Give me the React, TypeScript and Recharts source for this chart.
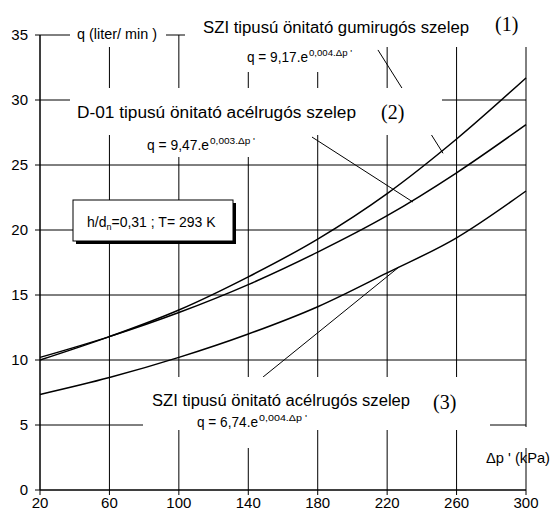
import React from "react";
import { LineChart, Line, XAxis, YAxis, CartesianGrid, ReferenceLine } from "recharts";

const P = [20, 60, 100, 140, 180, 220, 260, 300];
const Q1 = [10.0, 11.8, 13.85, 16.4, 19.3, 22.8, 27.0, 31.7];
const Q2 = [10.2, 11.8, 13.65, 15.8, 18.3, 21.1, 24.4, 28.1];
const Q3 = [7.35, 8.65, 10.2, 12.0, 14.1, 16.7, 19.4, 23.0];
const X_TICKS = [20, 60, 100, 140, 180, 220, 260, 300];
const Y_TICKS = [0, 5, 10, 15, 20, 25, 30, 35];

const LEADER1 = [{ x: 214.7, y: 33.85 }, { x: 252.2, y: 25.9 }];
const LEADER2 = [{ x: 176.7, y: 27.15 }, { x: 234.9, y: 22.15 }];
const LEADER3 = [{ x: 148.5, y: 8.69 }, { x: 226.8, y: 17.15 }];

const rows = P.map((p, i) => ({ p, q1: Q1[i], q2: Q2[i], q3: Q3[i] }));

const SANS = "'Liberation Sans', Arial, sans-serif";
const SERIF = "'Liberation Serif', 'Times New Roman', serif";

const boxes = [
  [70, 27, 96, 20],
  [185, 15, 300, 32],
  [485, 5, 55, 42],
  [238, 47, 127, 25],
  [70, 88, 372, 47],
  [135, 130, 170, 27],
  [143, 377, 347, 53],
  [190, 425, 110, 23],
  [484, 427, 68, 21],
];

function Formula({ x, y, main, sup, mainLen, supLen }: any) {
  return (
    <g fontFamily={SANS} fill="#000">
      <text x={x} y={y} fontSize={14} textLength={mainLen} lengthAdjust="spacingAndGlyphs">{main}</text>
      <text x={x + mainLen + 1} y={y - 6} fontSize={9} textLength={supLen} lengthAdjust="spacingAndGlyphs">{sup}</text>
    </g>
  );
}

export default function App() {
  return (
    <div style={{ position: "absolute", left: 0, top: 0, width: 552, height: 517, background: "#fff" }}>
      <LineChart width={552} height={517} data={rows} margin={{ top: 35, right: 26, bottom: 0, left: 10 }}>
        <CartesianGrid stroke="#000" strokeWidth={1} />
        <XAxis
          dataKey="p"
          type="number"
          domain={[20, 300]}
          ticks={X_TICKS}
          interval={0}
          height={27}
          tickSize={5}
          tickMargin={2}
          axisLine={{ stroke: "#000" }}
          tickLine={{ stroke: "#000" }}
          tick={{ fontSize: 15, fill: "#000", fontFamily: SANS }}
        />
        <YAxis
          type="number"
          domain={[0, 35]}
          ticks={Y_TICKS}
          interval={0}
          width={30}
          tickSize={5}
          tickMargin={7}
          axisLine={{ stroke: "#000" }}
          tickLine={{ stroke: "#000" }}
          tick={{ fontSize: 15, fill: "#000", fontFamily: SANS }}
        />
        <Line type="monotone" dataKey="q1" stroke="#000" strokeWidth={1.5} dot={false} isAnimationActive={false} />
        <Line type="monotone" dataKey="q2" stroke="#000" strokeWidth={1.5} dot={false} isAnimationActive={false} />
        <Line type="monotone" dataKey="q3" stroke="#000" strokeWidth={1.5} dot={false} isAnimationActive={false} />
        <ReferenceLine segment={LEADER1} stroke="#000" strokeWidth={1} ifOverflow="visible" />
        <ReferenceLine segment={LEADER2} stroke="#000" strokeWidth={1} ifOverflow="visible" />
        <ReferenceLine segment={LEADER3} stroke="#000" strokeWidth={1} ifOverflow="visible" />
      </LineChart>
      <svg width={552} height={517} style={{ position: "absolute", left: 0, top: 0, pointerEvents: "none" }}>
        {boxes.map(([x, y, w, h], i) => (
          <rect key={i} x={x} y={y} width={w} height={h} fill="#fff" />
        ))}
        <g fontFamily={SANS} fill="#000">
          <text x={77} y={39} fontSize={14} textLength={80} lengthAdjust="spacingAndGlyphs">q (liter/ min )</text>
          <text x={203} y={33} fontSize={16} textLength={266} lengthAdjust="spacingAndGlyphs">SZI tipusú önitató gumirugós szelep</text>
          <text x={77} y={118} fontSize={16} textLength={279} lengthAdjust="spacingAndGlyphs">D-01 tipusú önitató acélrugós szelep</text>
          <text x={152} y={406} fontSize={16} textLength={258} lengthAdjust="spacingAndGlyphs">SZI tipusú önitató acélrugós szelep</text>
          <text x={486} y={463} fontSize={15} textLength={64} lengthAdjust="spacingAndGlyphs">Δp ' (kPa)</text>
        </g>
        <g fontFamily={SERIF} fill="#000" fontSize={20}>
          <text x={495} y={31}>(1)</text>
          <text x={381} y={119}>(2)</text>
          <text x={433} y={409}>(3)</text>
        </g>
        <Formula x={247} y={62} main="q = 9,17.e" sup="0,004.Δp '" mainLen={61} supLen={43} />
        <Formula x={147} y={150} main="q = 9,47.e" sup="0,003.Δp '" mainLen={62} supLen={45} />
        <Formula x={197} y={427} main="q = 6,74.e" sup="0,004.Δp '" mainLen={61} supLen={48} />
        <rect x={76} y={203} width={160} height={41} fill="#000" />
        <rect x={73} y={200} width={160} height={41} fill="#fff" stroke="#000" strokeWidth={1} />
        <text x={87} y={227} fontSize={14} fontFamily={SANS} fill="#000">
          h/d<tspan fontSize={9} dy={3}>n</tspan>
          <tspan dy={-3}>=0,31 ; T= 293 K</tspan>
        </text>
      </svg>
    </div>
  );
}
